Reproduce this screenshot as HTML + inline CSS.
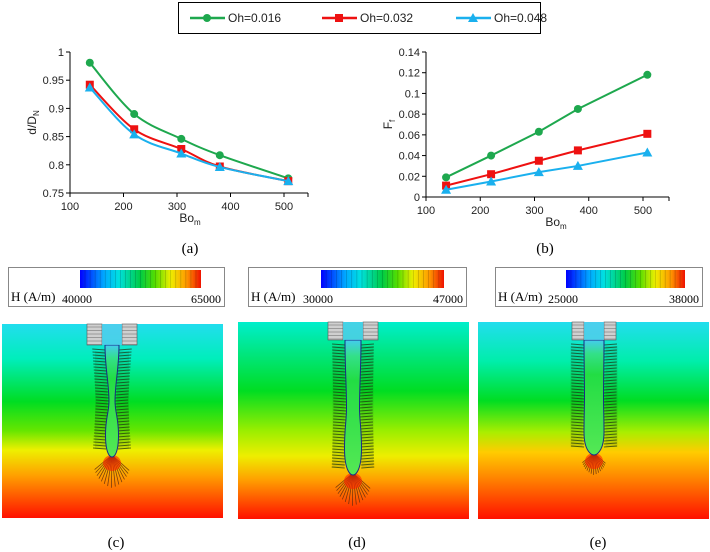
<!DOCTYPE html>
<html><head><meta charset="utf-8"><style>
html,body{margin:0;padding:0;background:#fff;width:710px;height:552px;overflow:hidden;font-family:"Liberation Sans",sans-serif}
svg{position:absolute;left:0;top:0}
</style></head><body>
<svg id="s" width="710" height="552" viewBox="0 0 710 552" xmlns="http://www.w3.org/2000/svg">
<defs>
<linearGradient id="cb" x1="0" x2="1" y1="0" y2="0">
<stop offset="0" stop-color="#0000ff"/><stop offset="0.2" stop-color="#00aaff"/><stop offset="0.32" stop-color="#00e0e0"/><stop offset="0.5" stop-color="#00cc44"/><stop offset="0.62" stop-color="#55dd00"/><stop offset="0.75" stop-color="#eeee00"/><stop offset="0.88" stop-color="#ff9900"/><stop offset="1" stop-color="#ee1100"/>
</linearGradient>
<linearGradient id="fc" x1="0" x2="0" y1="0" y2="1">
<stop offset="0" stop-color="#22ddee"/><stop offset="0.18" stop-color="#00eebb"/><stop offset="0.4" stop-color="#00dd22"/><stop offset="0.55" stop-color="#66e600"/><stop offset="0.65" stop-color="#eef000"/><stop offset="0.78" stop-color="#ffa000"/><stop offset="1" stop-color="#ff1000"/>
</linearGradient>
<linearGradient id="fd" x1="0" x2="0" y1="0" y2="1">
<stop offset="0" stop-color="#00eecc"/><stop offset="0.35" stop-color="#00dd22"/><stop offset="0.55" stop-color="#99ee00"/><stop offset="0.68" stop-color="#eeee00"/><stop offset="0.8" stop-color="#ffa000"/><stop offset="1" stop-color="#ff1000"/>
</linearGradient>
<linearGradient id="fe" x1="0" x2="0" y1="0" y2="1">
<stop offset="0" stop-color="#22ddee"/><stop offset="0.2" stop-color="#00eeaa"/><stop offset="0.4" stop-color="#00dd22"/><stop offset="0.56" stop-color="#aaee00"/><stop offset="0.66" stop-color="#ffcc00"/><stop offset="0.8" stop-color="#ff8000"/><stop offset="1" stop-color="#ff1000"/>
</linearGradient>
<linearGradient id="dg" x1="0" x2="0" y1="0" y2="1">
<stop offset="0" stop-color="#44ccee"/><stop offset="0.12" stop-color="#33e088"/><stop offset="0.3" stop-color="#22dd44"/><stop offset="1" stop-color="#55e855"/>
</linearGradient>
</defs>
<g id="legend">
<rect x="178.5" y="2.5" width="362" height="31" fill="#fff" stroke="#000" stroke-width="1"/>
</g>
<g id="chartA"></g>
<g id="chartB"></g>
<text x="190" y="253" font-family="Liberation Serif,serif" font-size="15" text-anchor="middle">(a)</text>
<text x="545" y="253" font-family="Liberation Serif,serif" font-size="15" text-anchor="middle">(b)</text>
<g id="panels"></g>
</svg>
<script>
const NS="http://www.w3.org/2000/svg";
const svg=document.getElementById('s');
function mk(p,t,a){const e=document.createElementNS(NS,t);for(const k in a)e.setAttribute(k,a[k]);p.appendChild(e);return e;}

const boValues=[137,220,308,380,508];
const seriesNames=["Oh=0.016","Oh=0.032","Oh=0.048"];
const seriesColors=["#1ea84e","#ee1111","#1ab0ee"];
const dRatioGreen=[0.981,0.890,0.846,0.817,0.776];
const dRatioRed=[0.942,0.863,0.828,0.797,0.771];
const dRatioBlue=[0.937,0.854,0.820,0.796,0.771];
const ffGreen=[0.019,0.040,0.063,0.085,0.118];
const ffRed=[0.011,0.022,0.035,0.045,0.061];
const ffBlue=[0.007,0.015,0.024,0.030,0.043];
const xTicks=[100,200,300,400,500];
const yTicksA=["0.75","0.8","0.85","0.9","0.95","1"];
const yTicksB=["0","0.02","0.04","0.06","0.08","0.1","0.12","0.14"];

function marker(g,i,x,y,name){
  let e;
  if(i===0){e=mk(g,'circle',{cx:x,cy:y,r:4,fill:seriesColors[i]});}
  else if(i===1){e=mk(g,'rect',{x:x-4,y:y-4,width:8,height:8,fill:seriesColors[i]});}
  else {e=mk(g,'polygon',{points:`${x},${y-5} ${x+5},${y+4} ${x-5},${y+4}`,fill:seriesColors[i]});}
  
  
}
function smooth(pts){
  let d=`M${pts[0][0]},${pts[0][1]}`;
  for(let i=0;i<pts.length-1;i++){
    const p0=pts[Math.max(0,i-1)],p1=pts[i],p2=pts[i+1],p3=pts[Math.min(pts.length-1,i+2)];
    const c1=[p1[0]+(p2[0]-p0[0])/6,p1[1]+(p2[1]-p0[1])/6];
    const c2=[p2[0]-(p3[0]-p1[0])/6,p2[1]-(p3[1]-p1[1])/6];
    d+=` C${c1[0]},${c1[1]} ${c2[0]},${c2[1]} ${p2[0]},${p2[1]}`;
  }
  return d;
}
function chart(g,x0,x1,xEnd,yTop,yBot,ymin,ymax,yT,series,ylab,smoothOn,lblx){
  const xs=v=>x0+(v-100)/400*(x1-x0);
  const ys=v=>yBot-(v-ymin)/(ymax-ymin)*(yBot-yTop);
  const ax=mk(g,'path',{d:`M${x0},${yTop} V${yBot} H${xEnd}`,stroke:'#000','stroke-width':1,fill:'none'});
  
  yT.forEach(t=>{const y=ys(parseFloat(t));mk(g,'line',{x1:x0-4,x2:x0,y1:y,y2:y,stroke:'#000'});
    const e=mk(g,'text',{x:x0-6,y:y+4,'text-anchor':'end','font-size':11,fill:'#222'});e.textContent=t;
    });
  xTicks.forEach(t=>{const x=xs(t);mk(g,'line',{x1:x,x2:x,y1:yBot,y2:yBot+4,stroke:'#000'});
    const e=mk(g,'text',{x:x,y:yBot+17,'text-anchor':'middle','font-size':11,fill:'#222'});e.textContent=t;
    });
  mk(g,'line',{x1:xEnd,x2:xEnd,y1:yBot,y2:yBot+4,stroke:'#000'});
  const xl=mk(g,'text',{x:lblx,y:yBot+29,'text-anchor':'middle','font-size':12,fill:'#222'});
  xl.innerHTML='Bo<tspan font-size="8" dy="3">m</tspan>';
  
  const yl=mk(g,'text',{transform:`translate(${x0-34},${(yTop+yBot)/2}) rotate(-90)`,'text-anchor':'middle','font-size':12,fill:'#222'});
  yl.innerHTML=ylab;
  
  series.forEach((vals,i)=>{
    const pts=vals.map((v,j)=>[xs(boValues[j]),ys(v)]);
    const p=mk(g,'path',{d:smoothOn?smooth(pts):'M'+pts.map(p=>p.join(',')).join(' L'),stroke:seriesColors[i],'stroke-width':2,fill:'none'});
    
    pts.forEach(q=>marker(g,i,q[0],q[1],'point-'+seriesNames[i]));
  });
}
chart(document.getElementById('chartA'),70,284,308,52,193,0.75,1,yTicksA,[dRatioGreen,dRatioRed,dRatioBlue],'d/D<tspan font-size="8" dy="3">N</tspan>',true,190);
chart(document.getElementById('chartB'),426,643,669,52,197,0,0.14,yTicksB,[ffGreen,ffRed,ffBlue],'F<tspan font-size="8" dy="3">f</tspan>',false,556);

const lg=document.getElementById('legend');
const legX=[190,322,456];
seriesNames.forEach((n,i)=>{
  const g=mk(lg,'g',{});
  
  mk(g,'line',{x1:legX[i],x2:legX[i]+35,y1:18,y2:18,stroke:seriesColors[i],'stroke-width':2.5});
  marker(g,i,legX[i]+17,18,'legend-marker');
  const t=mk(g,'text',{x:legX[i]+38,y:22,'font-size':12,fill:'#222'});t.textContent=n;
});

const panels=[
 {bx:8,bw:216,bar:[80,201],lo:"40000",hi:"65000",ix:2,iw:221,iy:324,ih:194,f:'fc',cx:112,nt:345,tip:457,neck:[7,3,6.5],arr:490,nw:25,lab:"(c)"},
 {bx:248,bw:218,bar:[321,444],lo:"30000",hi:"47000",ix:238,iw:231,iy:322,ih:197,f:'fd',cx:353,nt:340,tip:475,neck:[8,6.5,8.5],arr:508,nw:25,lab:"(d)"},
 {bx:495,bw:207,bar:[566,685],lo:"25000",hi:"38000",ix:478,iw:231,iy:322,ih:197,f:'fe',cx:594,nt:340,tip:455,neck:[10,9.5,10],arr:477,nw:22,lab:"(e)"}
];
const P=document.getElementById('panels');
panels.forEach((p,k)=>{
  const g=mk(P,'g',{});
  
  const cb=mk(g,'g',{});
  
  mk(cb,'rect',{x:p.bx+0.5,y:267.5,width:p.bw,height:39,fill:'#fff',stroke:'#888'});
  mk(cb,'rect',{x:p.bar[0],y:270,width:p.bar[1]-p.bar[0],height:18,fill:'url(#cb)'});
  for(let j=1;j<24;j++){const x=p.bar[0]+j*(p.bar[1]-p.bar[0])/24;mk(cb,'line',{x1:x,x2:x,y1:270,y2:288,stroke:'rgba(0,0,0,0.25)','stroke-width':0.6});}
  const sf='Liberation Serif,serif';
  let t=mk(cb,'text',{x:p.bx+3,y:301,'font-size':13,'font-family':sf});t.textContent='H (A/m)';
  t=mk(cb,'text',{x:p.bar[0]-18,y:303,'font-size':12,'font-family':sf});t.textContent=p.lo;
  t=mk(cb,'text',{x:p.bx+p.bw-3,y:303,'font-size':12,'font-family':sf,'text-anchor':'end'});t.textContent=p.hi;
  const im=mk(g,'g',{});
  
  mk(im,'rect',{x:p.ix,y:p.iy,width:p.iw,height:p.ih,fill:'url(#'+p.f+')'});
  const c=p.cx,top=p.nt,tip=p.tip,L=tip-top,n=p.neck;
  for(let a=-50;a<=50;a+=7){const r=a*Math.PI/180,len=(p.arr-tip)*(1-Math.abs(a)/160);
    mk(im,'line',{x1:c,y1:tip-2,x2:c+Math.sin(r)*len,y2:tip-2+Math.cos(r)*len,stroke:'#5a2a10','stroke-width':0.8,opacity:0.8});}
  mk(im,'ellipse',{cx:c,cy:tip+6,rx:9,ry:8,fill:'#ff2200',opacity:0.6});
  // fringe band
  const fw=n => n+13;
  for(let y=top+4;y<tip-6;y+=3){
    const f=(y-top)/L;
    const hw=f<0.5?n[0]+(n[1]-n[0])*f*2:n[1]+(n[2]-n[1])*(f-0.5)*2;
    mk(im,'line',{x1:c-hw-13,x2:c-hw,y1:y,y2:y+1,stroke:'#1a3010','stroke-width':1,opacity:0.7});
    mk(im,'line',{x1:c+hw,x2:c+hw+13,y1:y+1,y2:y,stroke:'#1a3010','stroke-width':1,opacity:0.7});
  }
  mk(im,'rect',{x:c-n[1]-14,y:top+6,width:12,height:L-14,fill:'#224411',opacity:0.12});
  mk(im,'rect',{x:c+n[1]+2,y:top+6,width:12,height:L-14,fill:'#224411',opacity:0.12});
  const d=`M${c-n[0]},${top} C${c-n[0]},${top+L*0.2} ${c-n[1]},${top+L*0.35} ${c-n[1]},${top+L*0.5} C${c-n[1]},${top+L*0.6} ${c-n[2]},${top+L*0.65} ${c-n[2]},${top+L*0.8} C${c-n[2]},${tip-3} ${c-2},${tip} ${c},${tip} C${c+2},${tip} ${c+n[2]},${tip-3} ${c+n[2]},${top+L*0.8} C${c+n[2]},${top+L*0.65} ${c+n[1]},${top+L*0.6} ${c+n[1]},${top+L*0.5} C${c+n[1]},${top+L*0.35} ${c+n[0]},${top+L*0.2} ${c+n[0]},${top} Z`;
  mk(im,'path',{d:d,fill:'url(#dg)',stroke:'#1a2a88','stroke-width':1});
  const nw=p.nw;
  mk(im,'rect',{x:c-nw,y:p.iy,width:nw-10,height:top-p.iy,fill:'#cfcfcf',stroke:'#555','stroke-width':0.6});
  mk(im,'rect',{x:c+10,y:p.iy,width:nw-10,height:top-p.iy,fill:'#cfcfcf',stroke:'#555','stroke-width':0.6});
  mk(im,'rect',{x:c-10,y:p.iy,width:20,height:top-p.iy,fill:'#55ccee',opacity:0.8});
  for(let y=p.iy+3;y<top;y+=3.5){mk(im,'line',{x1:c-nw,x2:c-10,y1:y,y2:y,stroke:'#666','stroke-width':0.5});mk(im,'line',{x1:c+10,x2:c+nw,y1:y,y2:y,stroke:'#666','stroke-width':0.5});}
  t=mk(g,'text',{x:c+4,y:547,'font-size':15,'font-family':sf,'text-anchor':'middle'});t.textContent=p.lab;
  
});
</script>
</body></html>
